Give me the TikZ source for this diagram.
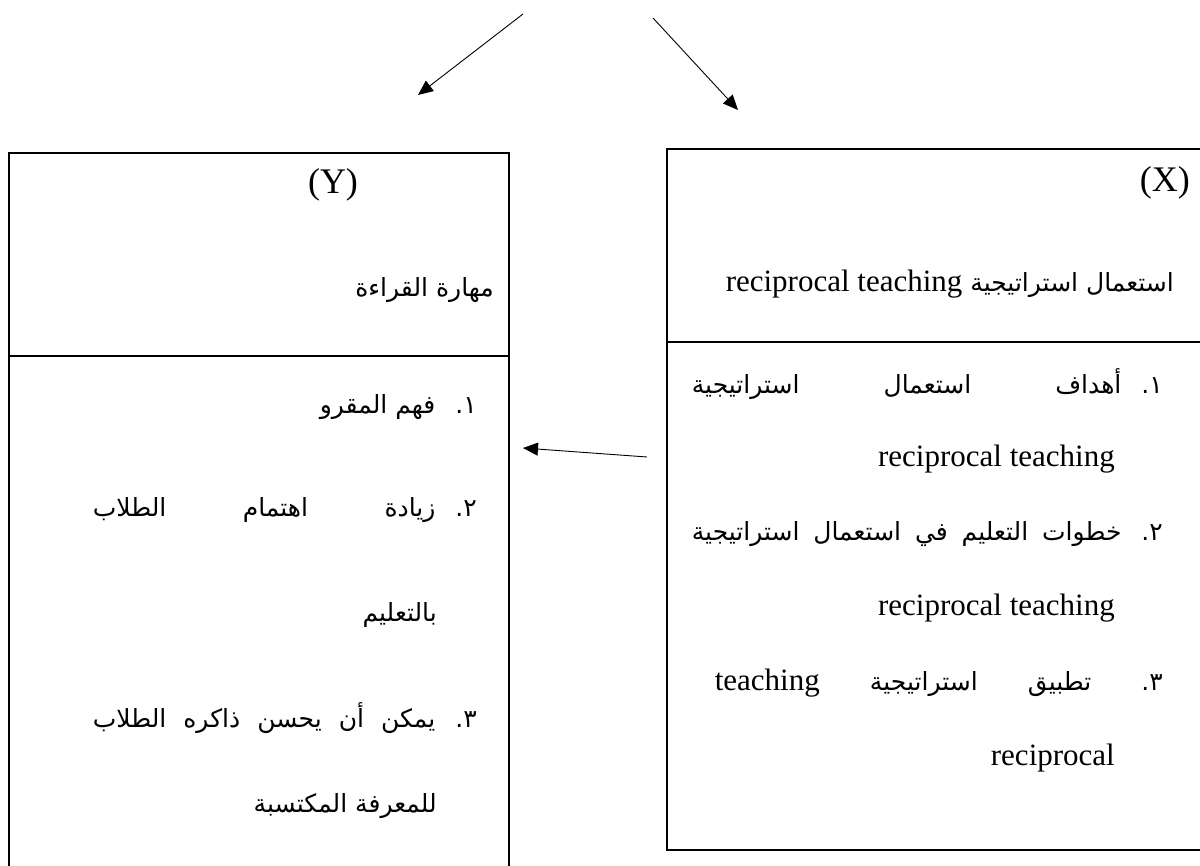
\documentclass[tikz,border=0pt]{standalone}
\usepackage{fontspec}
\setmainfont{Liberation Serif}
\newfontfamily\arabicfont[Script=Arabic]{DejaVu Sans}
\TeXXeTstate=1
\usetikzlibrary{arrows.meta, positioning}

\newcommand{\itemnum}[1]{\hbox{#1}\hbox{.}\hspace{20pt}}
\newcommand{\en}[1]{{\rmfamily\fontsize{31}{36}\selectfont\beginL #1\endL}}

\begin{document}
\begin{tikzpicture}[x=1pt, y=-1pt, >={Triangle[length=15pt, width=13pt]},
    box/.style={line width=2pt},
    link/.style={->, line width=0.9pt},
    lbl/.style={inner sep=0pt, font=\fontsize{36}{40}\selectfont},
    artxt/.style={inner sep=0pt, anchor=east, font=\arabicfont\fontsize{25}{30}\selectfont},
    entxt/.style={inner sep=0pt, anchor=east}]

    \useasboundingbox (0,0) rectangle (1200,866);

    % box Y (left) and box X (right)
    \draw[box] (9,866) -- (9,153) -- (509,153) -- (509,866);
    \draw[box] (9,356) -- (509,356);
    \draw[box] (1200,149) -- (667,149) -- (667,850) -- (1200,850);
    \draw[box] (667,342) -- (1200,342);

    % left box texts
    \node[lbl] (ylab) at (333,185) {(Y)};
    \node[artxt] (yname) at (494,290) {\beginR مهارة القراءة\endR};
    \node[artxt] (y1) at (477,407) {\beginR\itemnum{١}فهم المقرو\endR};
    \node[artxt] (y2) at (477,510) {\hbox to 384pt{\beginR\itemnum{٢}زيادة\hfill اهتمام\hfill الطلاب\endR}};
    \node[artxt] (y2b) at (437,615) {\beginR بالتعليم\endR};
    \node[artxt] (y3) at (477,718) {\hbox to 384pt{\beginR\itemnum{٣}يمكن\hfill أن\hfill يحسن\hfill ذاكره\hfill الطلاب\endR}};
    \node[artxt] (y3b) at (437,806) {\beginR للمعرفة المكتسبة\endR};

    % right box texts
    \node[lbl, anchor=east] (xlab) at (1190,183) {(X)};
    \node[artxt] (xname) at (1174,284) {\beginR استعمال استراتيجية \en{reciprocal teaching}\endR};
    \node[artxt] (x1) at (1163,384) {\hbox to 471pt{\beginR\itemnum{١}أهداف\hfill استعمال\hfill استراتيجية\endR}};
    \node[entxt] (x1b) at (1115,459) {\en{reciprocal teaching}};
    \node[artxt] (x2) at (1163,534) {\hbox to 471pt{\beginR\itemnum{٢}خطوات\hfill التعليم\hfill في\hfill استعمال\hfill استراتيجية\endR}};
    \node[entxt] (x2b) at (1115,608) {\en{reciprocal teaching}};
    \node[artxt] (x3) at (1163,683) {\hbox to 448pt{\beginR\hbox{٣}\hbox{.}\hfill تطبيق\hfill استراتيجية\hfill\en{teaching}\endR}};
    \node[entxt] (x3b) at (1115,758) {\en{reciprocal}};

    % connectors
    \coordinate (lstart) at (523,14);
    \coordinate (lend) at (418,95);
    \coordinate (rstart) at (653,18);
    \coordinate (rend) at (738,110);
    \coordinate (mstart) at (647,457);
    \coordinate (mend) at (523,448);
    \draw[link] (lstart) -- (lend);
    \draw[link] (rstart) -- (rend);
    \draw[link] (mstart) -- (mend);

\end{tikzpicture}
\end{document}
